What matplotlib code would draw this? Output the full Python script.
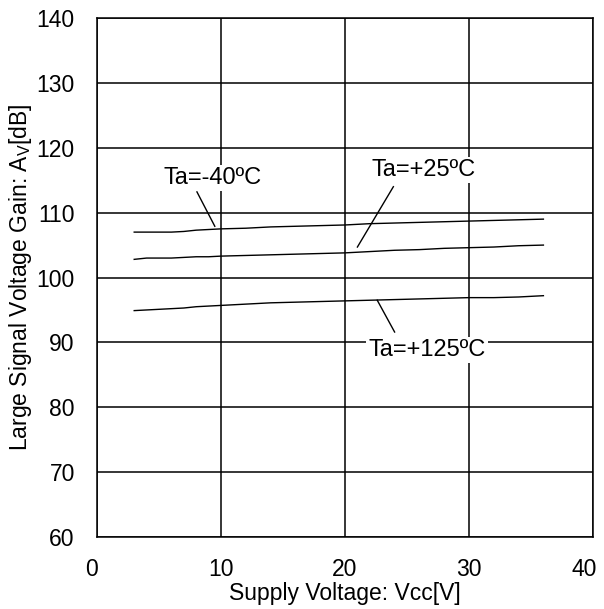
import matplotlib
matplotlib.use("Agg")
import matplotlib.pyplot as plt
from matplotlib.transforms import ScaledTranslation

plt.rcParams["font.family"] = ["Liberation Sans", "DejaVu Sans"]
plt.rcParams["mathtext.fontset"] = "custom"
plt.rcParams["mathtext.rm"] = "Liberation Sans"
plt.rcParams["mathtext.it"] = "Liberation Sans"

# données
vcc = [3, 4, 5, 6, 7, 8, 9, 10, 12, 14, 16, 18, 20, 22, 24, 26, 28, 30, 32, 34, 36]
gain_m40 = [107.0, 107.0, 107.0, 107.0, 107.1, 107.3, 107.4, 107.5, 107.6, 107.8, 107.9,
            108.0, 108.1, 108.3, 108.4, 108.5, 108.6, 108.7, 108.8, 108.9, 109.0]
gain_25 = [102.8, 103.0, 103.0, 103.0, 103.1, 103.2, 103.2, 103.3, 103.4, 103.5, 103.6,
           103.7, 103.8, 104.0, 104.2, 104.3, 104.5, 104.6, 104.7, 104.9, 105.0]
gain_125 = [94.9, 95.0, 95.1, 95.2, 95.3, 95.5, 95.6, 95.7, 95.9, 96.1, 96.2,
            96.3, 96.4, 96.5, 96.6, 96.7, 96.8, 96.9, 96.9, 97.0, 97.2]

labels = ["Ta=-40ºC", "Ta=+25ºC", "Ta=+125ºC"]
label_pos = [(9.35, 115.3), (26.3, 116.6), (26.6, 88.8)]
leader_from = [(8.06, 113.2), (23.9, 114.0), (24.0, 91.6)]
leader_to = [(9.5, 107.9), (21.0, 104.7), (22.6, 96.5)]

fig = plt.figure(figsize=(6.04, 6.09), dpi=100, facecolor="white")
ax = fig.add_axes([0.1606, 0.1182, 0.8212, 0.8522])

ax.set_xlim(0, 40)
ax.set_ylim(60, 140)
ax.set_xticks(range(0, 41, 10))
ax.set_yticks(range(60, 141, 10))
ax.grid(True, color="black", linewidth=1.1)
ax.set_axisbelow(True)
for s in ax.spines.values():
    s.set_linewidth(1.1)
ax.tick_params(length=0, labelsize=16.5)
ax.tick_params(axis="x", pad=15)
ax.tick_params(axis="y", pad=16)

for g in (gain_m40, gain_25, gain_125):
    ax.plot(vcc, g, color="black", linewidth=1.0, zorder=3)

for (x0, y0), (x1, y1) in zip(leader_from, leader_to):
    ax.plot([x0, x1], [y0, y1], color="black", linewidth=1.0, zorder=3)

for txt, (x, y) in zip(labels, label_pos):
    ax.text(x, y, txt, ha="center", va="center", fontsize=17, zorder=4,
            bbox=dict(facecolor="white", edgecolor="none", pad=1.5))

ax.set_xlabel("Supply Voltage: Vcc[V]", fontsize=16.5, labelpad=1)
ax.set_ylabel(r"Large Signal Voltage Gain: A$_\mathregular{V}$[dB]", fontsize=16.5, labelpad=2)

# décalage des étiquettes extrêmes (comme sur l'original, et pour ne pas couper "40")
fig.canvas.draw()
xlabs = ax.get_xticklabels()
xlabs[0].set_transform(xlabs[0].get_transform() + ScaledTranslation(-4 / 72, 0, fig.dpi_scale_trans))
xlabs[-1].set_transform(xlabs[-1].get_transform() + ScaledTranslation(-6 / 72, 0, fig.dpi_scale_trans))

fig.savefig("out.png", dpi=100)
